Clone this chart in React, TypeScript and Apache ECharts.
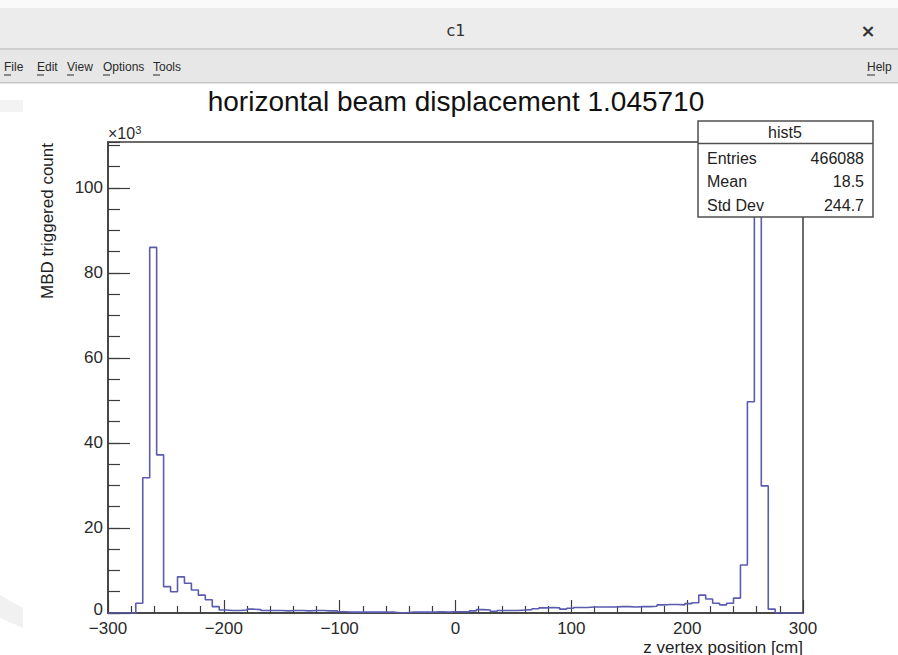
import React, { useEffect, useRef } from 'react';
import * as echarts from 'echarts';

// Histogram binning (100 bins from -300 to 300 cm)
const binLow = -300;
const binWidth = 6;

// Bin contents, in thousands of counts
const leftCounts = [0, 0, 0, 0, 2.3, 31.8, 86, 37.2, 6.2, 5.0, 8.5, 7.0, 5.4, 4.2, 3.1, 1.5, 0.7];
const middleCounts = [
  0.6, 0.6, 0.7, 0.9, 0.8, 0.6, 0.6, 0.6, 0.5, 0.6, 0.6, 0.5, 0.6, 0.6, 0.5, 0.5,
  0.3, 0.2, 0.2, 0.2, 0.2, 0.2, 0.2, 0.2, 0.05, 0.05, 0.2, 0.2, 0.2, 0.2, 0.3, 0.2,
  0.3, 0.3, 0.3, 0.5, 0.8, 0.7, 0.4, 0.6, 0.6, 0.6, 0.7, 0.8, 1.0, 1.2, 1.3, 1.2,
  0.9, 1.1, 1.3, 1.3, 1.4, 1.4, 1.4, 1.4, 1.5, 1.5, 1.4, 1.5, 1.5, 1.6, 1.9, 2.0,
  2.0, 1.9, 2.2,
];
const rightCounts = [2.4, 4.2, 3.3, 2.3, 1.9, 2.3, 3.5, 11.3, 49.7, 105.5, 29.9, 0.9, 0, 0, 0, 0];

const xTicks = [-300, -200, -100, 0, 100, 200, 300];
const yTicks = [0, 20, 40, 60, 80, 100];
const yMax = 110.8;

const chartTitle = 'horizontal beam displacement 1.045710';
const xTitle = 'z vertex position [cm]';
const yTitle = 'MBD triggered count';
const histName = 'hist5';
const statLabels = ['Entries', 'Mean', 'Std Dev'];
const statValues = ['466088', '18.5', '244.7'];
const menuItems = ['File', 'Edit', 'View', 'Options', 'Tools'];
const menuX = [4, 37, 67, 103, 153];
const windowTitle = 'c1';

const FONT = 'Liberation Sans, Arial, Helvetica, sans-serif';
const LINE_COLOR = '#5b5bb0';
const FRAME = '#3c3c3c';

export default function App() {
  const ref = useRef<HTMLDivElement>(null);
  useEffect(() => {
    const chart = echarts.init(ref.current!, null, { renderer: 'svg' });
    const counts = [...leftCounts, ...middleCounts, ...rightCounts];
    const data: number[][] = counts.map((c, i) => [binLow + i * binWidth, c]);
    data.push([binLow + counts.length * binWidth, counts[counts.length - 1]]);

    const menuGraphics: any[] = [];
    menuItems.forEach((m, i) => {
      menuGraphics.push({
        type: 'text', x: menuX[i], y: 67, z: 10,
        style: { text: m, font: '12px ' + FONT, fill: '#2a2a2a', textAlign: 'left', textVerticalAlign: 'middle' },
      });
      menuGraphics.push({
        type: 'line', z: 10,
        shape: { x1: menuX[i], y1: 75, x2: menuX[i] + 7, y2: 75 },
        style: { stroke: '#2a2a2a', lineWidth: 1 },
      });
    });

    const statGraphics: any[] = [];
    statLabels.forEach((l, i) => {
      const y = 158 + i * 23.5;
      statGraphics.push({
        type: 'text', x: 707, y, z: 20,
        style: { text: l, font: '16px ' + FONT, fill: '#222', textAlign: 'left', textVerticalAlign: 'middle' },
      });
      statGraphics.push({
        type: 'text', x: 864, y, z: 20,
        style: { text: statValues[i], font: '16px ' + FONT, fill: '#222', textAlign: 'right', textVerticalAlign: 'middle' },
      });
    });

    chart.setOption({
      animation: false,
      backgroundColor: '#ffffff',
      grid: {
        left: 108, right: 95, top: 142, bottom: 42,
        show: true, borderColor: FRAME, borderWidth: 1.5, backgroundColor: 'transparent',
      },
      xAxis: {
        type: 'value', min: -300, max: 300, interval: 100,
        axisLine: { show: true, onZero: false, lineStyle: { color: FRAME, width: 1.5 } },
        axisTick: { show: true, inside: true, length: 13, lineStyle: { color: FRAME, width: 1.2 } },
        minorTick: { show: true, splitNumber: 5, length: 7, lineStyle: { color: FRAME, width: 1.2 } },
        splitLine: { show: false },
        axisLabel: {
          margin: 8, fontSize: 17, lineHeight: 15, fontFamily: FONT, color: '#2a2a2a',
          formatter: (v: number) => (xTicks.includes(v) ? String(v).replace('-', '\u2212') : ''),
        },
      },
      yAxis: [
        {
          type: 'value', min: 0, max: yMax, interval: 20, position: 'left',
          axisLine: { show: true, onZero: false, lineStyle: { color: FRAME, width: 1.5 } },
          axisTick: { show: true, inside: true, length: 22, lineStyle: { color: FRAME, width: 1.2 } },
          splitLine: { show: false },
          axisLabel: {
            margin: 5, fontSize: 17, lineHeight: 14, fontFamily: FONT, color: '#2a2a2a',
            showMaxLabel: false, verticalAlign: 'middle',
            formatter: (v: number) => (v === 0 ? '{z|0}' : yTicks.includes(v) ? String(v) : ''),
            rich: {
              z: { fontSize: 17, lineHeight: 14, fontFamily: FONT, color: '#2a2a2a', padding: [0, 0, 7, 0] },
            },
          },
        },
        {
          type: 'value', min: 0, max: yMax, interval: 5, position: 'left', offset: 0,
          axisLine: { show: false, onZero: false },
          axisTick: { show: true, inside: true, length: 12, lineStyle: { color: FRAME, width: 1.2 } },
          splitLine: { show: false },
          axisLabel: { show: false },
        },
      ],
      series: [
        {
          type: 'line', name: histName, data, step: 'end', yAxisIndex: 0,
          showSymbol: false, symbol: 'none',
          lineStyle: { color: LINE_COLOR, width: 1.6 },
          z: 5,
        },
      ],
      graphic: [
        // window chrome
        { type: 'rect', z: 1, shape: { x: 0, y: 0, width: 898, height: 8 }, style: { fill: '#fafafa' } },
        { type: 'rect', z: 1, shape: { x: 0, y: 8, width: 898, height: 40 }, style: { fill: '#ececec' } },
        { type: 'rect', z: 1, shape: { x: 0, y: 48, width: 898, height: 2 }, style: { fill: '#cfcfcf' } },
        { type: 'rect', z: 1, shape: { x: 0, y: 50, width: 898, height: 32 }, style: { fill: '#e7e7e7' } },
        { type: 'rect', z: 1, shape: { x: 0, y: 82, width: 898, height: 1.5 }, style: { fill: '#c6c6c6' } },
        {
          type: 'text', x: 456, y: 30, z: 10,
          style: { text: windowTitle, font: '16px DejaVu Sans, sans-serif', fill: '#333', textAlign: 'center', textVerticalAlign: 'middle' },
        },
        {
          type: 'text', x: 868, y: 30, z: 10,
          style: { text: '\u00d7', font: 'bold 18px DejaVu Sans, sans-serif', fill: '#333', textAlign: 'center', textVerticalAlign: 'middle' },
        },
        {
          type: 'text', x: 867, y: 67, z: 10,
          style: { text: 'Help', font: '12px ' + FONT, fill: '#2a2a2a', textAlign: 'left', textVerticalAlign: 'middle' },
        },
        { type: 'line', z: 10, shape: { x1: 867, y1: 75, x2: 875, y2: 75 }, style: { stroke: '#2a2a2a', lineWidth: 1 } },
        ...menuGraphics,
        // faint watermark shapes on the left edge
        { type: 'rect', z: 2, shape: { x: 0, y: 100, width: 23, height: 12 }, style: { fill: '#f3f3f3' } },
        { type: 'polygon', z: 2, shape: { points: [[0, 595], [23, 608], [23, 628], [0, 618]] }, style: { fill: '#f1f1f1' } },
        // chart title
        {
          type: 'text', x: 456, y: 101, z: 10,
          style: { text: chartTitle, font: '28px ' + FONT, fill: '#111', textAlign: 'center', textVerticalAlign: 'middle' },
        },
        // exponent label
        {
          type: 'text', x: 108, y: 133, z: 10,
          style: {
            text: '{a|\u00d710}{b|3}',
            textAlign: 'left', textVerticalAlign: 'middle',
            rich: {
              a: { fontSize: 16, fontFamily: FONT, fill: '#2a2a2a', color: '#2a2a2a' },
              b: { fontSize: 11, fontFamily: FONT, fill: '#2a2a2a', color: '#2a2a2a', verticalAlign: 'top', padding: [0, 0, 7, 0] },
            },
          },
        },
        // axis titles
        {
          type: 'text', x: 47, y: 143, z: 10, rotation: Math.PI / 2,
          style: { text: yTitle, font: '17px ' + FONT, fill: '#222', textAlign: 'right', textVerticalAlign: 'middle' },
        },
        {
          type: 'text', x: 803, y: 647, z: 10,
          style: { text: xTitle, font: '17px ' + FONT, fill: '#222', textAlign: 'right', textVerticalAlign: 'middle' },
        },
        // stats box
        {
          type: 'rect', z: 15,
          shape: { x: 698, y: 121, width: 175, height: 96 },
          style: { fill: '#ffffff', stroke: '#505050', lineWidth: 1.5 },
        },
        { type: 'line', z: 16, shape: { x1: 698, y1: 143.5, x2: 873, y2: 143.5 }, style: { stroke: '#505050', lineWidth: 1.5 } },
        {
          type: 'text', x: 785, y: 132, z: 20,
          style: { text: histName, font: '16px ' + FONT, fill: '#222', textAlign: 'center', textVerticalAlign: 'middle' },
        },
        ...statGraphics,
      ],
    });
    return () => chart.dispose();
  }, []);
  return (
    <div
      ref={ref}
      style={{ position: 'fixed', left: 0, top: 0, width: 898, height: 655, background: '#fff' }}
    />
  );
}
